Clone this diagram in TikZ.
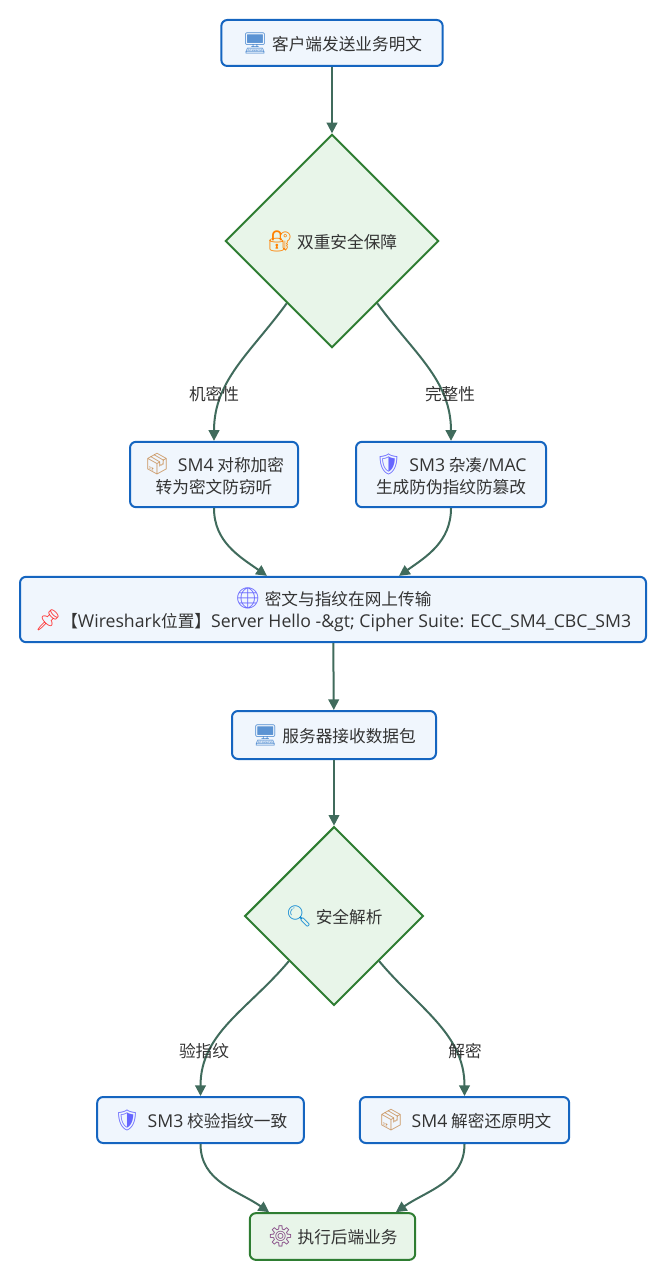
\documentclass[tikz,border=0pt]{standalone}
\usepackage{fontspec}
\setmainfont{Noto Sans CJK SC}
\newfontfamily\emojifont{Noto Emoji}[Scale=1.25]
\newfontfamily\latinfont{Open Sans}[Scale=1.06]
\usetikzlibrary{shapes.geometric,arrows.meta}

\definecolor{boxblue}{RGB}{21,101,192}
\definecolor{boxfill}{RGB}{240,246,253}
\definecolor{diagreen}{RGB}{46,125,50}
\definecolor{diafill}{RGB}{232,245,233}
\definecolor{linkcol}{RGB}{64,107,92}
\definecolor{txtcol}{RGB}{51,51,51}

\newcommand{\emj}[2]{{\emojifont\textcolor{#1}{#2}}}
\newcommand{\lat}[1]{{\latinfont #1}}

\tikzset{
	every picture/.style={line width=0.75pt},
	procbox/.style={draw=boxblue, fill=boxfill, line width=1.5pt, rounded corners=4.5pt, align=center, text=txtcol, inner sep=0pt, font=\fontsize{12.5}{16.5}\selectfont},
	endbox/.style={procbox, draw=diagreen, fill=diafill},
	decide/.style={diamond, aspect=1, draw=diagreen, fill=diafill, line width=1.5pt, inner sep=0pt, text=txtcol, font=\fontsize{12.5}{16.5}\selectfont},
	flowlink/.style={draw=linkcol, line width=1.5pt, -{Triangle[length=8pt,width=8pt]}},
	linklabel/.style={text=txtcol, inner sep=2pt, font=\fontsize{12.5}{16.5}\selectfont}
}

\begin{document}
\begin{tikzpicture}[x=0.75pt,y=0.75pt,yscale=-1,xscale=1]
	\useasboundingbox (0,0) rectangle (666,1280);

	%Shape: Rectangle [id:client]
	\node [procbox, minimum width=166pt, minimum height=34.5pt] (client) at (332,43) {\emj{boxblue!70}{🖥}\ 客户端发送业务明文};
	%Shape: Diamond [id:guard]
	\node [decide, minimum width=160pt, minimum height=160pt] (guard) at (332,241) {\emj{orange}{🔐}\ 双重安全保障};
	%Shape: Rectangle [id:enc]
	\node [procbox, minimum width=126pt, minimum height=49pt] (enc) at (214,474.5) {\emj{brown!80}{📦}\ \ \lat{SM4} 对称加密\\转为密文防窃听};
	%Shape: Rectangle [id:mac]
	\node [procbox, minimum width=142.5pt, minimum height=49pt] (mac) at (451,474.5) {\emj{blue!60}{🛡}\ \ \lat{SM3} 杂凑\lat{/MAC}\\生成防伪指纹防篡改};
	%Shape: Rectangle [id:wire]
	\node [procbox, minimum width=469.5pt, minimum height=49pt] (wire) at (333,609.5) {\emj{blue!60}{🌐}\ 密文与指纹在网上传输\\\emj{red!80}{📌}【\lat{Wireshark}位置】\lat{Server Hello -\&gt; Cipher Suite: ECC\_SM4\_CBC\_SM3}};
	%Shape: Rectangle [id:srv]
	\node [procbox, minimum width=153pt, minimum height=36pt] (srv) at (334,735) {\emj{boxblue!70}{🖥}\ 服务器接收数据包};
	%Shape: Diamond [id:parse]
	\node [decide, minimum width=134pt, minimum height=134pt] (parse) at (334,916) {\emj{cyan!70!blue}{🔍}\ 安全解析};
	%Shape: Rectangle [id:verify]
	\node [procbox, minimum width=155pt, minimum height=34.5pt] (verify) at (200.5,1120) {\emj{blue!60}{🛡}\ \ \lat{SM3} 校验指纹一致};
	%Shape: Rectangle [id:decrypt]
	\node [procbox, minimum width=157pt, minimum height=34.5pt] (decrypt) at (464.5,1120) {\emj{brown!80}{📦}\ \ \lat{SM4} 解密还原明文};
	%Shape: Rectangle [id:exec]
	\node [endbox, minimum width=124pt, minimum height=35pt] (exec) at (332.5,1236.5) {\emj{violet!50!gray}{⚙}\ 执行后端业务};

	%Straight Lines
	\draw [flowlink] (client) -- (guard);
	%Curve Lines
	\draw [flowlink] (guard.-126) to[out=126,in=-90] (enc.north);
	\draw [flowlink] (guard.-54) to[out=54,in=-90] (mac.north);
	\draw [flowlink] (enc.south) to[out=90,in=-145] (wire.153);
	\draw [flowlink] (mac.south) to[out=90,in=-35] (wire.27);
	%Straight Lines
	\draw [flowlink] (wire) -- (srv);
	\draw [flowlink] (srv) -- (parse);
	%Curve Lines
	\draw [flowlink] (parse.-135) to[out=130,in=-90] (verify.north);
	\draw [flowlink] (parse.-45) to[out=50,in=-90] (decrypt.north);
	\draw [flowlink] (verify.south) to[out=90,in=-145] (exec.159);
	\draw [flowlink] (decrypt.south) to[out=90,in=-35] (exec.21);

	% Text Node
	\node [linklabel] (lconf) at (214,394) {机密性};
	% Text Node
	\node [linklabel] (linteg) at (450,394) {完整性};
	% Text Node
	\node [linklabel] (lcheck) at (204,1051) {验指纹};
	% Text Node
	\node [linklabel] (ldec) at (465,1051) {解密};

\end{tikzpicture}
\end{document}
